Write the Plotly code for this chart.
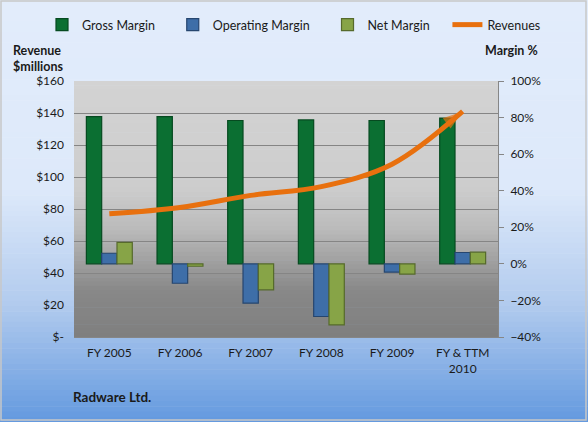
import plotly.graph_objects as go
import numpy as np

# chart data
categories = ["FY 2005", "FY 2006", "FY 2007", "FY 2008", "FY 2009", "FY & TTM<br>2010"]
gross_margin = [80.5, 80.5, 78.4, 78.7, 78.4, 79.7]
operating_margin = [5.8, -10.6, -21.5, -28.8, -4.5, 6.2]
net_margin = [11.7, -1.3, -14.2, -33.4, -5.6, 6.4]
revenues = [77, 81, 88.5, 94, 108, 141]

rev_ticks = [0, 20, 40, 60, 80, 100, 120, 140, 160]
rev_labels = ["$-", "$20", "$40", "$60", "$80", "$100", "$120", "$140", "$160"]

W, H = 588, 422
L, R, T, B = 74, 90, 81, 85
PW, PH = W - L - R, H - T - B
NB = "\u00a0"  # widens legend entries like the original


def px_x(x):
    return (x - L) / PW


def px_y(y):
    return (H - B - y) / PH


def gradient(x0, x1, y0, y1, stops, n=60):
    # horizontal strips faking a vertical gradient (pixel coords, top to bottom)
    pos = np.array([s[0] for s in stops])
    cols = np.array([s[1] for s in stops], dtype=float)
    shapes = []
    edges = np.linspace(y0, y1, n + 1)
    for i in range(n):
        f = (i + 0.5) / n
        c = [int(round(np.interp(f, pos, cols[:, k]))) for k in range(3)]
        shapes.append(dict(
            type="rect", xref="paper", yref="paper", layer="below",
            x0=px_x(x0), x1=px_x(x1), y0=px_y(edges[i]), y1=px_y(edges[i + 1] + 0.6),
            line=dict(width=0), fillcolor=f"rgb({c[0]},{c[1]},{c[2]})",
        ))
    return shapes


shapes = []
shapes += gradient(0, W, 0, H, [
    (0.0, (226, 236, 251)), (0.45, (221, 233, 250)), (0.72, (178, 203, 238)), (1.0, (99, 153, 223))
], n=80)
shapes += gradient(L, W - R, T, H - B, [
    (0.0, (211, 211, 211)), (0.42, (205, 205, 205)), (0.58, (186, 186, 186)),
    (0.82, (136, 136, 136)), (1.0, (127, 127, 127))
], n=60)
shapes.append(dict(type="rect", xref="paper", yref="paper", layer="above",
                   x0=px_x(1), x1=px_x(W - 2), y0=px_y(1), y1=px_y(H - 2),
                   line=dict(color="#c8c8c8", width=1.5), fillcolor="rgba(0,0,0,0)"))

fig = go.Figure()

fig.add_trace(go.Bar(
    x=categories, y=gross_margin, name="Gross Margin" + NB * 4,
    marker=dict(color="#0b6f32", line=dict(color="#064a20", width=1.2)),
))
fig.add_trace(go.Bar(
    x=categories, y=operating_margin, name="Operating Margin" + NB * 4,
    marker=dict(color="#3e6ea8", line=dict(color="#26466f", width=1.2)),
))
fig.add_trace(go.Bar(
    x=categories, y=net_margin, name="Net Margin" + NB * 4,
    marker=dict(color="#87a447", line=dict(color="#566a2c", width=1.2)),
))

# revenue line with an arrowhead on its last point
sizes = [0] * (len(revenues) - 1) + [21]
fig.add_trace(go.Scatter(
    x=categories, y=revenues, name="Revenues", yaxis="y2",
    mode="lines+markers",
    line=dict(color="#e8700e", width=5, shape="spline", smoothing=1.0),
    marker=dict(symbol="arrow", angleref="previous", size=sizes, color="#e8700e",
                line=dict(width=0)),
))

font = "Lato, 'Open Sans', sans-serif"

fig.update_layout(
    width=W, height=H,
    margin=dict(l=L, r=R, t=T, b=B, autoexpand=False),
    paper_bgcolor="rgba(0,0,0,0)",
    plot_bgcolor="rgba(0,0,0,0)",
    font=dict(family=font, size=12, color="#1a1a1a"),
    barmode="group", bargap=0.35, bargroupgap=0,
    showlegend=True,
    legend=dict(orientation="h", x=px_x(546), xanchor="right", y=px_y(25), yanchor="middle",
                bgcolor="rgba(0,0,0,0)", font=dict(size=12.5), itemwidth=30,
                tracegroupgap=0, traceorder="normal"),
    xaxis=dict(showline=True, linecolor="#868686", ticks="", showgrid=False,
               tickfont=dict(size=12), ticklabelstandoff=5, automargin=False),
    yaxis=dict(side="right", range=[-40, 100], dtick=20, ticksuffix="%",
               showgrid=False, zeroline=False, showline=True, linecolor="#868686",
               ticks="outside", ticklen=5, tickcolor="#868686", tickfont=dict(size=12),
               ticklabelstandoff=4, automargin=False),
    yaxis2=dict(overlaying="y", side="left", range=[0, 160],
                tickvals=rev_ticks, ticktext=rev_labels,
                showgrid=True, gridcolor="#858585", gridwidth=1, zeroline=False,
                showline=False, ticks="", tickfont=dict(size=12),
                ticklabelstandoff=9, automargin=False),
    shapes=shapes,
    annotations=[
        dict(text="<b>Revenue<br>$millions</b>", xref="paper", yref="paper",
             x=px_x(11), y=px_y(41), xanchor="left", yanchor="top", align="left",
             showarrow=False, font=dict(size=12.5)),
        dict(text="<b>Margin %</b>", xref="paper", yref="paper",
             x=px_x(483), y=px_y(41), xanchor="left", yanchor="top",
             showarrow=False, font=dict(size=12.5)),
        dict(text="<b>Radware Ltd.</b>", xref="paper", yref="paper",
             x=px_x(71), y=px_y(397), xanchor="left", yanchor="middle",
             showarrow=False, font=dict(size=13.5)),
    ],
)

# the default page keeps the browser's 8px body margin; drop it
fig.write_html("out.html", config={"displayModeBar": False},
               post_script="document.body.style.margin='0';")
